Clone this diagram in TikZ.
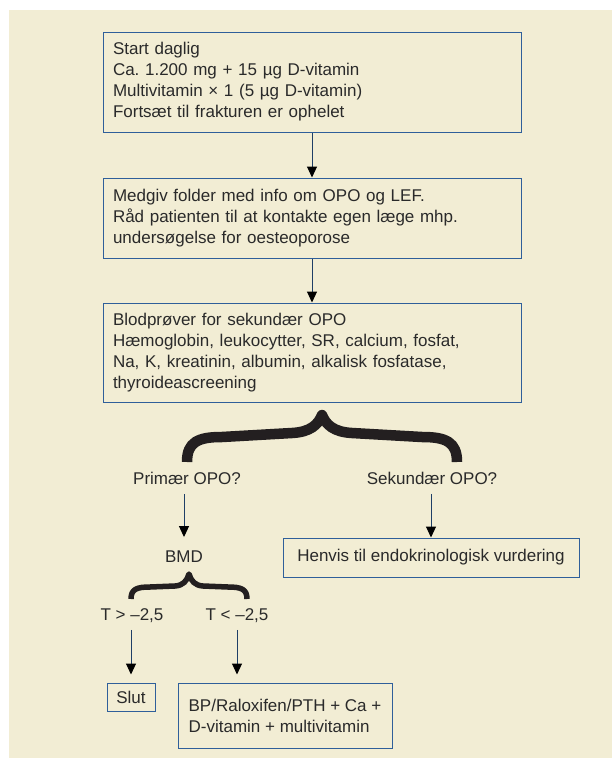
\documentclass[tikz,border=0pt]{standalone}
\usepackage{fontspec}
\setmainfont{Liberation Sans}
\usetikzlibrary{arrows.meta}
\definecolor{bg}{HTML}{F2EDD4}
\definecolor{boxc}{HTML}{2F5F9A}
\definecolor{arrc}{HTML}{1F3F66}
\definecolor{txt}{HTML}{2A2A2A}
\definecolor{bracec}{HTML}{231F20}
\frenchspacing
\begin{document}
\begin{tikzpicture}[x=1pt,y=-1pt,
  every node/.style={text=txt, font=\fontsize{17}{21}\selectfont},
  box/.style={draw=boxc, line width=1pt, align=left, inner xsep=10pt, inner ysep=0pt},
  lbl/.style={inner sep=0pt, text height=12pt, text depth=3.5pt},
  arr/.style={draw=arrc, line width=1pt, -{Triangle[width=10pt,length=11pt,color=black]}},
  bracestroke/.style={draw=bracec, line cap=butt, line join=round}]
\useasboundingbox (0,0) rectangle (612,758);
\fill[bg] (9,10) rectangle (612,758);

\node[box, text width=398pt, minimum height=100pt] (b1) at (312,82)
  {Start daglig\\Ca. 1.200 mg + 15 µg D-vitamin\\Multivitamin × 1 (5 µg D-vitamin)\\Fortsæt til frakturen er ophelet};
\node[box, text width=398pt, minimum height=80pt] (b2) at (312,218)
  {Medgiv folder med info om OPO og LEF.\\Råd patienten til at kontakte egen læge mhp.\\undersøgelse for oesteoporose};
\node[box, text width=398pt, minimum height=99pt] (b3) at (312,352.5)
  {Blodprøver for sekundær OPO\\Hæmoglobin, leukocytter, SR, calcium, fosfat,\\Na, K, kreatinin, albumin, alkalisk fosfatase,\\thyroideascreening};

\node[lbl] (p1) at (187,480) {Primær OPO?};
\node[lbl] (s1) at (432,480) {Sekundær OPO?};
\node[lbl] (bmd) at (184,558) {BMD};
\node[box, minimum width=296pt, minimum height=39pt] (hen) at (431,557.5) {Henvis til endokrinologisk vurdering};
\node[lbl] (tg) at (132,616) {T > –2,5};
\node[lbl] (tl) at (237,616) {T < –2,5};
\node[box, inner xsep=0pt, minimum width=48pt, minimum height=28pt] (slut) at (131,697) {Slut};
\node[box, inner xsep=0pt, minimum width=214pt, minimum height=65pt] (bp) at (285,715.5) {BP/Raloxifen/PTH + Ca +\\D-vitamin + multivitamin};

\draw[arr] (b1) -- (b2);
\draw[arr] (b2) -- (b3);
\draw[arr, shorten <=6pt, shorten >=13pt] (bmd |- p1.south) -- (bmd.north);
\draw[arr, shorten <=6pt] (hen.north |- s1.south) -- (hen.north);
\draw[arr, shorten <=6pt, shorten >=8pt] (slut.north |- tg.south) -- (slut.north);
\draw[arr, shorten <=6pt, shorten >=8pt] (tl.south) -- (tl.south |- bp.north);

% large brace
\draw[bracestroke, line width=10.5pt]
  (187,462) .. controls (187,442) and (198,437) .. (222,437) -- (292,433)
  .. controls (310,432) and (318,425) .. (322,415)
  .. controls (326,425) and (334,432) .. (352,433) -- (422,437)
  .. controls (446,437) and (457,442) .. (457,462);
% small brace
\draw[bracestroke, line width=5.5pt]
  (131,599) .. controls (131,589) and (137,587) .. (150,587) -- (175,586)
  .. controls (183,585.5) and (187,581) .. (189,574)
  .. controls (191,581) and (195,585.5) .. (203,586) -- (228,587)
  .. controls (241,587) and (247,589) .. (247,599);
\end{tikzpicture}
\end{document}
